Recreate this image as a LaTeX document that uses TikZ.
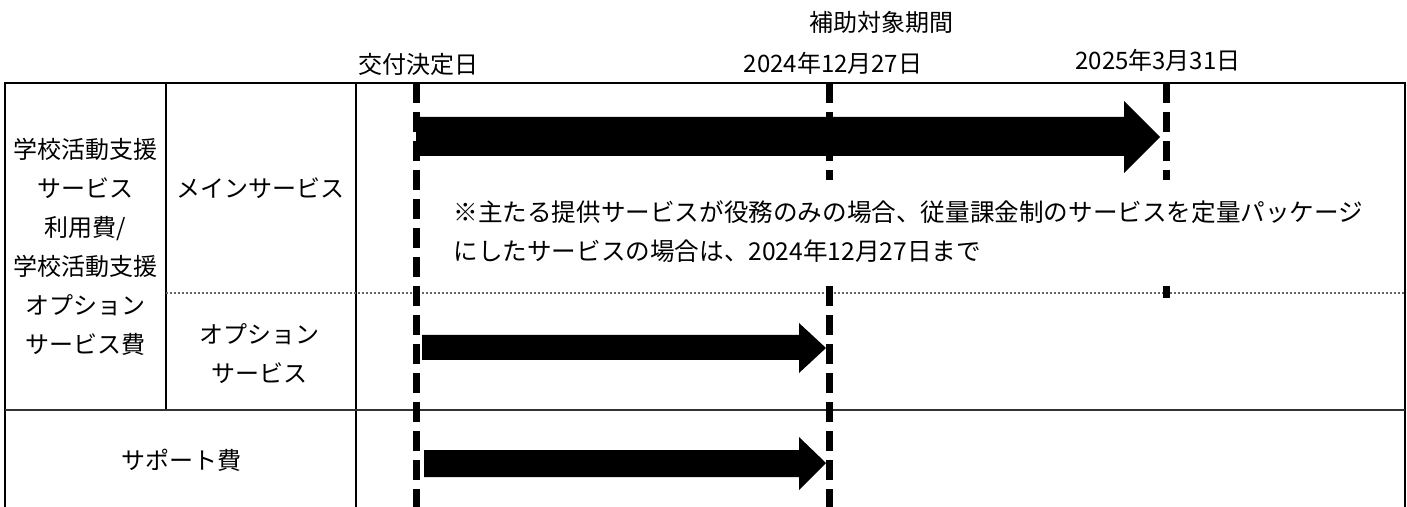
\documentclass[tikz,border=0pt]{standalone}
\usepackage{fontspec}
\setmainfont{Noto Sans CJK JP}
\begin{document}
\begin{tikzpicture}[x=0.5pt,y=-0.5pt,
  lbl/.style={inner sep=0pt, font=\fontsize{12}{19.5}\selectfont, align=center},
  notelbl/.style={inner sep=0pt, font=\fontsize{12.3}{19.5}\selectfont, anchor=west},
  frame/.style={line width=1pt, black},
  rowline/.style={line width=1pt, black!80},
  dotline/.style={line width=0.6pt, black!60, dash pattern=on 1pt off 1pt},
  dashline/.style={line width=3.5pt, black, dash pattern=on 10pt off 4.5pt},
  blockarrow/.style={fill=black, draw=none}]
\useasboundingbox (0,0) rectangle (1407,507);
% table frame
\draw[frame] (5,507) -- (5,83) -- (1405,83) -- (1405,507);
\draw[frame] (166,83) -- (166,410);
\draw[frame] (356,83) -- (356,507);
\draw[rowline] (5,410) -- (1405,410);
\draw[dotline] (166,293) -- (1405,293);
% date lines
\draw[dashline] (416,83) -- (416,507);
\draw[dashline] (829,83) -- (829,507);
\draw[dashline] (1166,83) -- (1166,298);
% note box (hides the lines behind it)
\fill[white] (432,180) rectangle (1398,283);
% block arrows
\fill[blockarrow] (416,117) -- (1124,117) -- (1124,101) -- (1160,137)
  -- (1124,173) -- (1124,156) -- (416,156) -- cycle;
\fill[blockarrow] (422,335) -- (799,335) -- (799,323) -- (826,348)
  -- (799,373) -- (799,360) -- (422,360) -- cycle;
\fill[blockarrow] (424,450) -- (799,450) -- (799,437) -- (826,463)
  -- (799,490) -- (799,477) -- (424,477) -- cycle;
% headings
\node[lbl] (period) at (881,22) {補助対象期間};
\node[lbl] (start) at (418,64) {交付決定日};
\node[lbl] (d1227) at (833,63) {2024年12月27日};
\node[lbl] (d0331) at (1158,60) {2025年3月31日};
% cells
\node[lbl] (cost) at (85,246.5) {学校活動支援\\サービス\\利用費/\\学校活動支援\\オプション\\サービス費};
\node[lbl] (main) at (260,188) {メインサービス};
\node[lbl] (option) at (259,353.5) {オプション\\サービス};
\node[lbl] (support) at (181,460) {サポート費};
% note
\node[notelbl] (note1) at (453,212) {※主たる提供サービスが役務のみの場合、従量課金制のサービスを定量パッケージ};
\node[notelbl] (note2) at (453,251) {にしたサービスの場合は、2024年12月27日まで};
\end{tikzpicture}
\end{document}
